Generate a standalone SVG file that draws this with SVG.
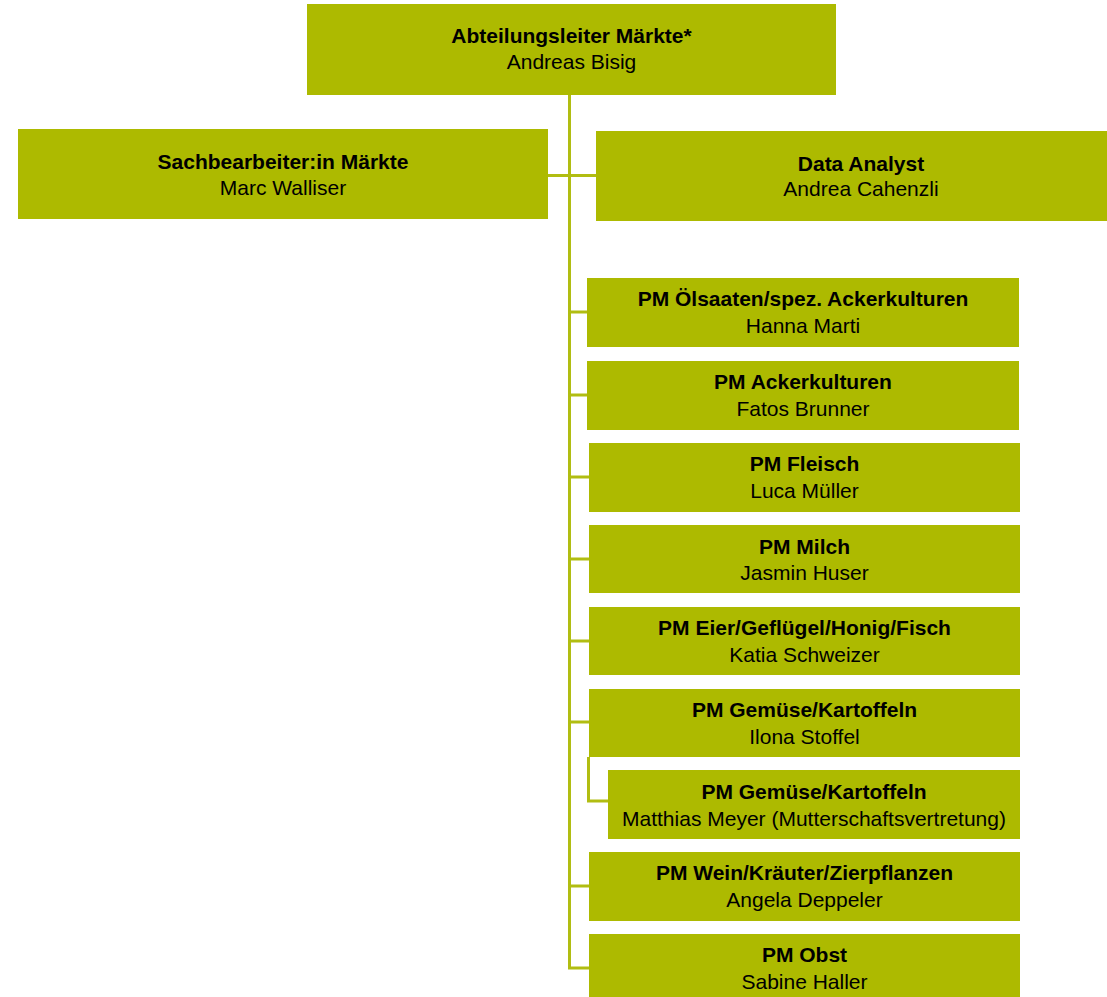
<svg xmlns="http://www.w3.org/2000/svg" width="1107" height="997" viewBox="0 0 1107 997">
<style>
.box{fill:#adba00}
.t{font-family:"Liberation Sans",Arial,sans-serif;font-size:21px;font-weight:bold;fill:#000;text-anchor:middle}
.n{font-family:"Liberation Sans",Arial,sans-serif;font-size:21px;fill:#000;text-anchor:middle}
.c{fill:none;stroke:#b1bd12;stroke-width:3}
</style>
<rect width="1107" height="997" fill="#fff"/>
<g id="connectors">
<path class="c" d="M569.5 95V968H589"/>
<path class="c" d="M548 175.5H596"/>
<path class="c" d="M569.5 312H587M569.5 395H587M569.5 477H589M569.5 559H589M569.5 641H589M569.5 722H589M569.5 886H589"/>
<path class="c" d="M588.5 757V801H608"/>
</g>
<g id="n0"><rect class="box" x="307" y="4" width="529" height="91"/><text class="t" x="571.5" y="43">Abteilungsleiter Märkte*</text><text class="n" x="571.5" y="69">Andreas Bisig</text></g>
<g id="n1"><rect class="box" x="18" y="129" width="530" height="90"/><text class="t" x="283" y="168.5">Sachbearbeiter:in Märkte</text><text class="n" x="283" y="194.5">Marc Walliser</text></g>
<g id="n2"><rect class="box" x="596" y="131" width="530" height="90"/><text class="t" x="861" y="170.5">Data Analyst</text><text class="n" x="861" y="196">Andrea Cahenzli</text></g>
<g id="n3"><rect class="box" x="587" y="278" width="432" height="69"/><text class="t" x="803" y="306">PM Ölsaaten/spez. Ackerkulturen</text><text class="n" x="803" y="333">Hanna Marti</text></g>
<g id="n4"><rect class="box" x="587" y="361" width="432" height="69"/><text class="t" x="803" y="389">PM Ackerkulturen</text><text class="n" x="803" y="416">Fatos Brunner</text></g>
<g id="n5"><rect class="box" x="589" y="443" width="431" height="69"/><text class="t" x="804.5" y="471">PM Fleisch</text><text class="n" x="804.5" y="498">Luca Müller</text></g>
<g id="n6"><rect class="box" x="589" y="525" width="431" height="68"/><text class="t" x="804.5" y="553.5">PM Milch</text><text class="n" x="804.5" y="580">Jasmin Huser</text></g>
<g id="n7"><rect class="box" x="589" y="607" width="431" height="68"/><text class="t" x="804.5" y="635">PM Eier/Geflügel/Honig/Fisch</text><text class="n" x="804.5" y="662">Katia Schweizer</text></g>
<g id="n8"><rect class="box" x="589" y="689" width="431" height="68"/><text class="t" x="804.5" y="717">PM Gemüse/Kartoffeln</text><text class="n" x="804.5" y="744">Ilona Stoffel</text></g>
<g id="n9"><rect class="box" x="608" y="770" width="412" height="69"/><text class="t" x="814" y="799">PM Gemüse/Kartoffeln</text><text class="n" x="814" y="826">Matthias Meyer (Mutterschaftsvertretung)</text></g>
<g id="n10"><rect class="box" x="589" y="852" width="431" height="69"/><text class="t" x="804.5" y="880">PM Wein/Kräuter/Zierpflanzen</text><text class="n" x="804.5" y="907">Angela Deppeler</text></g>
<g id="n11"><rect class="box" x="589" y="934" width="431" height="69"/><text class="t" x="804.5" y="962">PM Obst</text><text class="n" x="804.5" y="989">Sabine Haller</text></g>
</svg>
